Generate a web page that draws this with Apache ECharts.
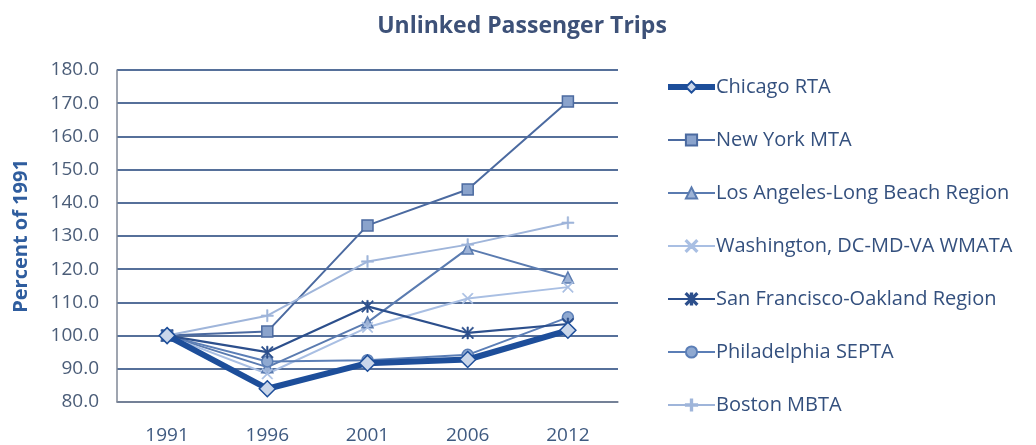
<!DOCTYPE html>
<html>
<head>
<meta charset="utf-8">
<script src="https://cdn.jsdelivr.net/npm/echarts@6/dist/echarts.min.js"></script>
<style>html,body{margin:0;padding:0;background:#fff;}#c{width:1036px;height:445px;}</style>
</head>
<body>
<div id="c"></div>
<script>
var years = ['1991', '1996', '2001', '2006', '2012'];
var chicago = [100, 84, 91.7, 92.8, 101.6];
var newYork = [100, 101.2, 133.2, 144, 170.5];
var losAngeles = [100, 90.5, 104, 126.2, 117.5];
var washington = [100, 88.5, 102.5, 111.2, 114.6];
var sanFrancisco = [100, 95, 108.8, 100.8, 103.5];
var philadelphia = [100, 92.2, 92.6, 94.2, 105.5];
var boston = [100, 106, 122.3, 127.4, 134];
var yTicks = {min: 80, max: 180, step: 10};

var PLUS = 'path://M4.4,0H5.6V10H4.4Z M0,4.4H10V5.6H0Z';
var XMARK = 'path://M0.8,0L5,4.2L9.2,0L10,0.8L5.8,5L10,9.2L9.2,10L5,5.8L0.8,10L0,9.2L4.2,5L0,0.8Z';
var STAR = 'path://M0.8,0L5,4.2L9.2,0L10,0.8L5.8,5L10,9.2L9.2,10L5,5.8L0.8,10L0,9.2L4.2,5L0,0.8Z M4.4,0H5.6V10H4.4Z';

function mk(name, data, color, width, symbol, size, fill, z) {
  return {
    name: name, type: 'line', data: data, z: z,
    symbol: symbol, symbolSize: size,
    lineStyle: {color: color, width: width},
    itemStyle: {color: fill, borderColor: color, borderWidth: (symbol.indexOf('path') === 0 ? 0.6 : 1.5)},
    emphasis: {disabled: true},
    animation: false
  };
}

var FONT = 'Open Sans';
var chart = echarts.init(document.getElementById('c'));
chart.setOption({
  backgroundColor: '#ffffff',
  title: {
    text: 'Unlinked Passenger Trips',
    left: 517, top: 10, textAlign: 'center',
    textStyle: {fontFamily: FONT, fontSize: 23, fontWeight: 'bold', color: '#3d5178'}
  },
  grid: {left: 117, right: 418, top: 70, bottom: 43},
  legend: {
    orient: 'vertical', left: 660, top: 68,
    itemWidth: 47, itemHeight: 14, itemGap: 25,
    textStyle: {fontFamily: FONT, fontSize: 20, color: '#34507e', padding: [0, 0, 0, -4], lineHeight: 28},
    selectedMode: false,
    data: [
      {name: 'Chicago RTA', lineStyle: {width: 6}},
      'New York MTA', 'Los Angeles-Long Beach Region', 'Washington, DC-MD-VA WMATA',
      'San Francisco-Oakland Region', 'Philadelphia SEPTA', 'Boston MBTA'
    ]
  },
  xAxis: {
    type: 'category', data: years, boundaryGap: true,
    axisLine: {lineStyle: {color: '#7f8796', width: 1.5}},
    axisTick: {show: false},
    axisLabel: {margin: 24, fontFamily: FONT, fontSize: 19, color: '#3f5a80'}
  },
  yAxis: {
    type: 'value', min: yTicks.min, max: yTicks.max, interval: yTicks.step,
    name: 'Percent of 1991', nameLocation: 'middle', nameRotate: 90, nameGap: 86,
    nameTextStyle: {fontFamily: FONT, fontSize: 20, fontWeight: 'bold', color: '#2f5d9e'},
    axisLine: {show: true, lineStyle: {color: '#7f8796', width: 1.5}},
    axisTick: {show: false},
    splitLine: {lineStyle: {color: '#56709a', width: 2}},
    axisLabel: {margin: 18, fontFamily: FONT, fontSize: 19, color: '#4b5d78',
      formatter: function (v) { return v.toFixed(1); }}
  },
  series: [
    mk('Chicago RTA', chicago, '#1d4e9a', 6, 'diamond', 16, '#c9d6ea', 10),
    mk('New York MTA', newYork, '#4b6aa0', 2, 'rect', 11, '#8aa3cc', 3),
    mk('Los Angeles-Long Beach Region', losAngeles, '#5a7bb0', 2, 'triangle', 11, '#9db3d6', 3),
    mk('Washington, DC-MD-VA WMATA', washington, '#a9bfe3', 2, XMARK, 11, '#a9bfe3', 3),
    mk('San Francisco-Oakland Region', sanFrancisco, '#2c4f8c', 2.2, STAR, 12, '#2c4f8c', 4),
    mk('Philadelphia SEPTA', philadelphia, '#5b7eb6', 2, 'circle', 11, '#8fa9d1', 3),
    mk('Boston MBTA', boston, '#9fb5da', 2, PLUS, 12, '#9fb5da', 3)
  ]
});
</script>
</body>
</html>
